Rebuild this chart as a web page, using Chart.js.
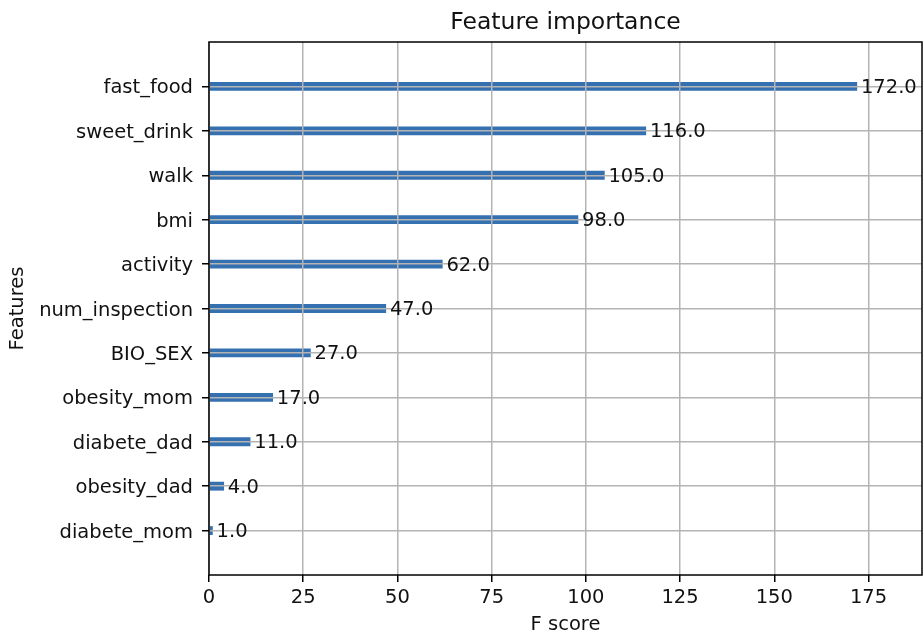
<!DOCTYPE html>
<html>
<head>
<meta charset="utf-8">
<script src="https://cdn.jsdelivr.net/npm/chart.js@4/dist/chart.umd.min.js"></script>
<style>
  html, body { margin: 0; padding: 0; background: #fff; overflow: hidden; }
  #wrap { width: 923px; height: 632px; position: relative; }
</style>
</head>
<body>
<div id="wrap"><canvas id="chart"></canvas></div>
<script>
// Features listed bottom-to-top (index 0 sits at the bottom of the axis)
const features = ['diabete_mom', 'obesity_dad', 'diabete_dad', 'obesity_mom', 'BIO_SEX',
                  'num_inspection', 'activity', 'bmi', 'walk', 'sweet_drink', 'fast_food'];
const fScores = [1, 4, 11, 17, 27, 47, 62, 98, 105, 116, 172];
const xTickValues = [0, 25, 50, 75, 100, 125, 150, 175];

const FONT = '"DejaVu Sans", "Liberation Sans", sans-serif';
const TEXT = '#111';
const BAR = '#3571b0';
const GRID = '#b4b4b4';

// Axis limit leaves 10% headroom past the largest score
const xLimit = Math.max(...fScores) * 1.1;

// Score labels written just past the end of each bar, above the grid
const valueLabels = {
  id: 'valueLabels',
  afterDraw(chart) {
    const { ctx, scales: { x, y } } = chart;
    ctx.save();
    ctx.font = '19.5px ' + FONT;
    ctx.fillStyle = TEXT;
    ctx.textAlign = 'left';
    ctx.textBaseline = 'middle';
    fScores.forEach((v, i) => {
      ctx.fillText(v.toFixed(1), x.getPixelForValue(v + 1), y.getPixelForValue(i) + 1.5);
    });
    ctx.restore();
  }
};

// Full box frame around the plotting area
const frame = {
  id: 'frame',
  afterDraw(chart) {
    const { ctx, chartArea: a } = chart;
    ctx.save();
    ctx.strokeStyle = '#000';
    ctx.lineWidth = 1.5;
    ctx.strokeRect(a.left, a.top, a.right - a.left, a.bottom - a.top);
    ctx.restore();
  }
};

new Chart(document.getElementById('chart'), {
  type: 'bar',
  data: {
    datasets: [{
      data: fScores.map((v, i) => ({ x: v, y: i })),
      backgroundColor: BAR,
      borderWidth: 0,
      barPercentage: 0.2,
      categoryPercentage: 1.0
    }]
  },
  options: {
    indexAxis: 'y',
    responsive: true,
    maintainAspectRatio: false,
    animation: false,
    layout: { padding: { left: 0, right: 1, top: 0, bottom: 0 } },
    plugins: {
      legend: { display: false },
      tooltip: { enabled: false },
      title: {
        display: true,
        text: 'Feature importance',
        fullSize: false,
        color: TEXT,
        font: { family: FONT, size: 23.5, weight: 'normal', lineHeight: 1.2 },
        padding: { top: 9, bottom: 4.8 }
      }
    },
    scales: {
      x: {
        type: 'linear',
        min: 0,
        max: xLimit,
        afterBuildTicks(scale) {
          scale.ticks = xTickValues.map(v => ({ value: v }));
        },
        afterFit(scale) { scale.height = 57; },
        ticks: {
          color: TEXT,
          font: { family: FONT, size: 19.5 },
          padding: 4,
          maxRotation: 0,
          callback: v => String(v)
        },
        grid: { color: GRID, lineWidth: 1.5, z: 1, tickLength: 7, tickColor: '#000', tickWidth: 1.5 },
        border: { display: false },
        title: {
          display: true,
          text: 'F score',
          color: TEXT,
          font: { family: FONT, size: 19.5, lineHeight: 1.0 },
          padding: { top: 0, bottom: -3 }
        }
      },
      y: {
        type: 'linear',
        offset: false,
        min: -1,
        max: features.length,
        afterBuildTicks(scale) {
          scale.ticks = features.map((_, i) => ({ value: i }));
        },
        afterFit(scale) { scale.width = 209; },
        ticks: {
          color: TEXT,
          font: { family: FONT, size: 19.5 },
          padding: 9,
          labelOffset: 2,
          autoSkip: false,
          callback: v => features[v]
        },
        grid: { offset: false, color: GRID, lineWidth: 1.5, z: 1, tickLength: 7, tickColor: '#000', tickWidth: 1.5 },
        border: { display: false },
        title: {
          display: true,
          text: 'Features',
          color: TEXT,
          font: { family: FONT, size: 19.5, lineHeight: 1.2 },
          padding: { top: 6, bottom: 0 }
        }
      }
    }
  },
  plugins: [valueLabels, frame]
});
</script>
</body>
</html>
